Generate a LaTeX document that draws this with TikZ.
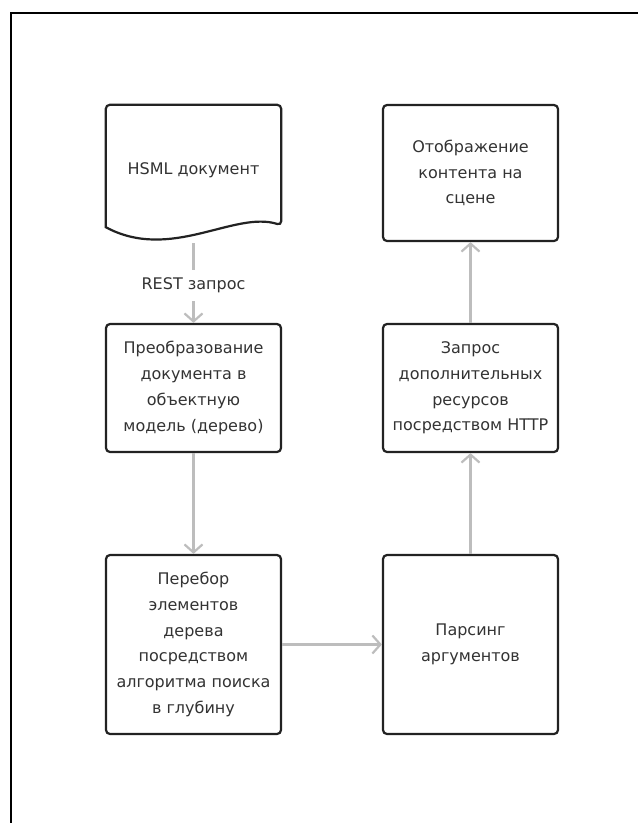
\documentclass[tikz,border=0pt]{standalone}
\usepackage{fontspec}
\setmainfont{DejaVu Sans}
\usetikzlibrary{arrows.meta,positioning,calc}
\definecolor{boxline}{HTML}{222222}
\definecolor{txt}{HTML}{333333}
\definecolor{arr}{HTML}{BDBDBD}

\begin{document}
\begin{tikzpicture}[
        x=1pt, y=-1pt,
        font=\fontsize{16}{25.8}\selectfont,
        block/.style={draw=boxline, line width=2.2pt, rounded corners=4pt, minimum width=175pt, align=center, text=txt},
        docshape/.style={minimum width=175pt, minimum height=130pt, align=center, text=txt},
        line/.style={-{Straight Barb[length=8pt,width=18pt]}, draw=arr, line width=2.2pt},
    ]
        
        % --- page and frame ---
        \fill[white] (0,0) rectangle (638,823);
        \useasboundingbox (0,0) rectangle (638,823);
        \draw[line width=2pt] (11,823) -- (11,13) -- (638,13);
        
        % --- left column ---
        \node[docshape] (doc) at (193.5,170) {HSML документ};
        \node[block, minimum height=128pt] (conv) at (193.5,388) {Преобразование\\документа в\\объектную\\модель (дерево)};
        \node[block, minimum height=179pt] (walk) at (193.5,644.5) {Перебор\\элементов\\дерева\\посредством\\алгоритма поиска\\в глубину};
        
        % --- right column ---
        \node[block, minimum height=179pt] (parse) at (470.5,644.5) {Парсинг\\аргументов};
        \node[block, minimum height=128pt] (req) at (470.5,388) {Запрос\\дополнительных\\ресурсов\\посредством HTTP};
        \node[block, minimum height=136pt] (show) at (470.5,173) {Отображение\\контента на\\сцене};
        
        % document outline with wavy bottom
        \draw[draw=boxline, line width=2.2pt, rounded corners=4pt]
            ($(doc.south west)+(0,-8)$) -- (doc.north west) -- (doc.north east) -- ($(doc.south east)+(0,-10)$)
            [sharp corners] .. controls ($(doc.south east)+(-47,-25)$) and ($(doc.south west)+(65,27)$) .. ($(doc.south west)+(0,-8)$) -- cycle;
        
        % wiring
        \draw[line, shorten <=8pt] (doc.south) -- node[pos=0.57, fill=white, text=txt, inner ysep=8pt] {REST запрос} (conv.north);
        \draw[line] (conv.south) -- (walk.north);
        \draw[line] (walk.east) -- (parse.west);
        \draw[line] (parse.north) -- (req.south);
        \draw[line] (req.north) -- (show.south);
        
\end{tikzpicture}
\end{document}
